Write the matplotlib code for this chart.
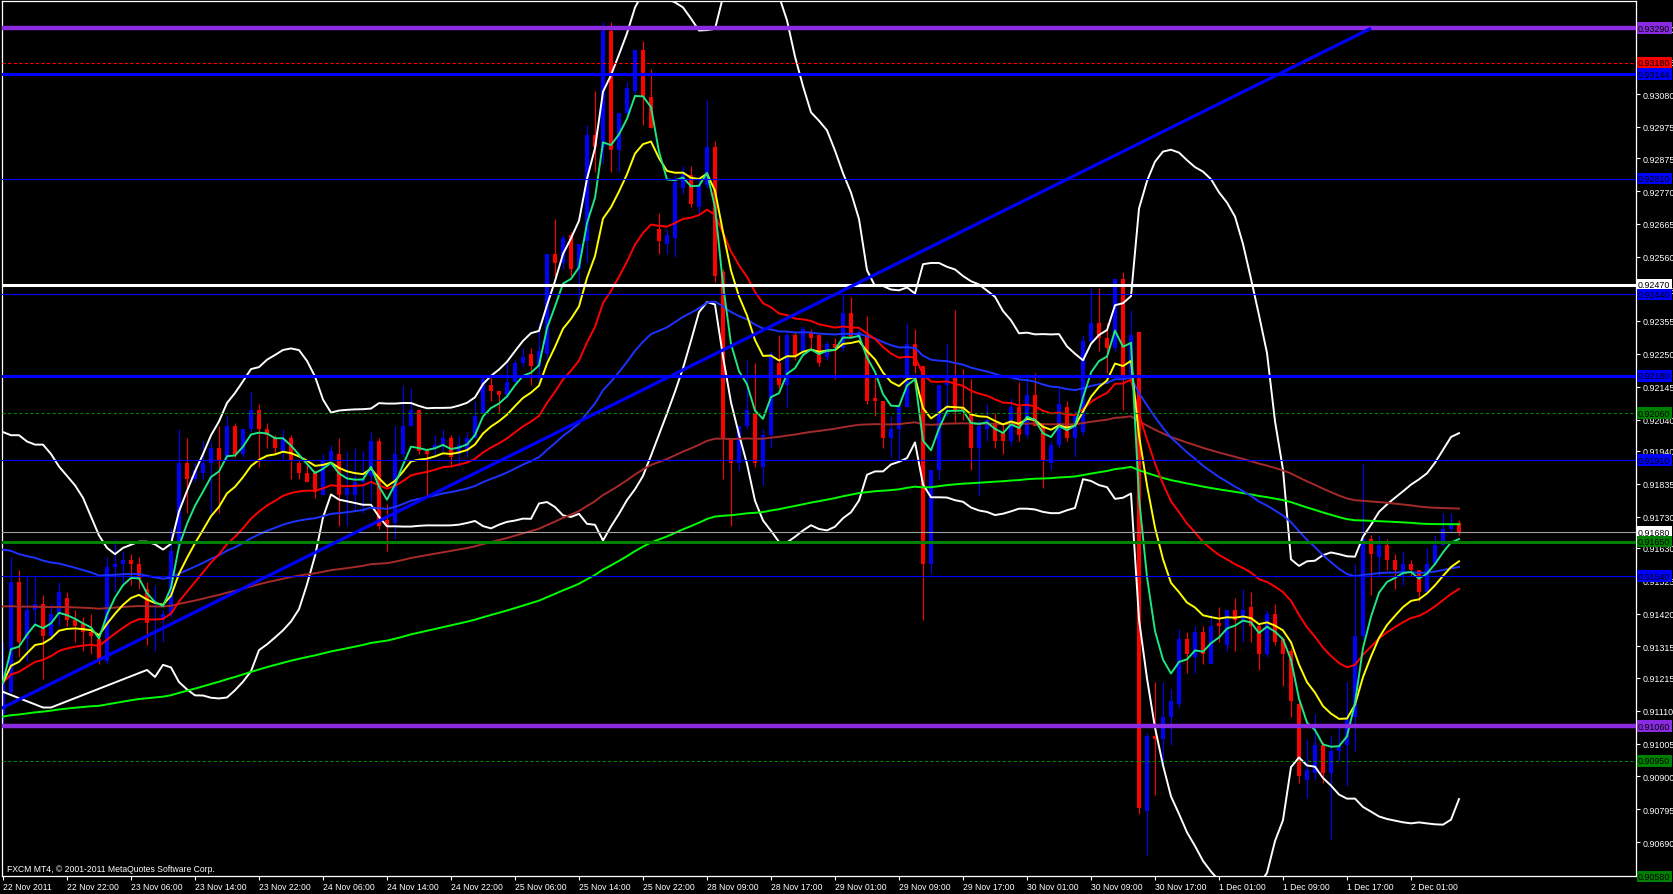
import numpy as np
import pandas as pd
import matplotlib
matplotlib.use('Agg')
import matplotlib.pyplot as plt
from matplotlib import font_manager

# pick a narrow sans font like the MT4 terminal font
_names = {f.name for f in font_manager.fontManager.ttflist}
if 'Liberation Sans Narrow' in _names:
    FONT, FS = 'Liberation Sans Narrow', 7.2
else:
    FONT, FS = 'Liberation Sans', 6.2
FS_Y = FS * 1.03
plt.rcParams['font.family'] = [FONT, 'DejaVu Sans']

# ---- hourly candles (22 Nov - 2 Dec 2011) ----
opens = [0.9110, 0.9117, 0.9152, 0.9134, 0.9143, 0.9145, 0.9135, 0.9142, 0.9147, 0.9140,
         0.9139, 0.9136, 0.9134, 0.9127, 0.9157, 0.9158, 0.9159, 0.9158, 0.9150, 0.9140,
         0.9140, 0.9142, 0.9164, 0.9190, 0.9185, 0.9187, 0.9190, 0.9195, 0.9192, 0.9202,
         0.9193, 0.9201, 0.9207, 0.9201, 0.9198, 0.9194, 0.9198, 0.9190, 0.9187, 0.9187,
         0.9180, 0.9191, 0.9193, 0.9180, 0.9180, 0.9184, 0.9186, 0.9197, 0.9172, 0.9171,
         0.9193, 0.9202, 0.9207, 0.9194, 0.9195, 0.9196, 0.9198, 0.9193, 0.9194, 0.9198,
         0.9206, 0.9215, 0.9213, 0.9212, 0.9216, 0.9222, 0.9225, 0.9221, 0.9225, 0.9257,
         0.9254, 0.9263, 0.9252, 0.9261, 0.9295, 0.9291, 0.9328, 0.9290, 0.9302, 0.9309,
         0.9322, 0.9307, 0.9265, 0.9260, 0.9262, 0.9278, 0.9282, 0.9272, 0.9279, 0.9291,
         0.9251, 0.9198, 0.9190, 0.9202, 0.9206, 0.9189, 0.9199, 0.9222, 0.9215, 0.9231,
         0.9226, 0.9232, 0.9231, 0.9224, 0.9228, 0.9227, 0.9238, 0.9230, 0.9231, 0.9211,
         0.9210, 0.9198, 0.9201, 0.9208, 0.9228, 0.9221, 0.9158, 0.9188, 0.9215, 0.9218,
         0.9208, 0.9206, 0.9195, 0.9201, 0.9203, 0.9200, 0.9197, 0.9208, 0.9199, 0.9212,
         0.9202, 0.9190, 0.9196, 0.9208, 0.9198, 0.9200, 0.9229, 0.9235, 0.9230, 0.9227,
         0.9249, 0.9217, 0.9232, 0.9079, 0.9103, 0.9102, 0.9109, 0.9113, 0.9134, 0.9128,
         0.9136, 0.9126, 0.9139, 0.9132, 0.9143, 0.9140, 0.9144, 0.9138, 0.9129, 0.9142,
         0.9134, 0.9130, 0.9113, 0.9089, 0.9091, 0.9100, 0.9091, 0.9098, 0.9100, 0.9109,
         0.9135, 0.9166, 0.9160, 0.9164, 0.9159, 0.9155, 0.9158, 0.9156, 0.9149, 0.9158,
         0.9164, 0.9169, 0.9171]
highs = [0.9133, 0.9160, 0.9156, 0.9154, 0.9154, 0.9148, 0.9145, 0.9152, 0.9149, 0.9143,
         0.9141, 0.9142, 0.9135, 0.9160, 0.9166, 0.9162, 0.9161, 0.9160, 0.9152, 0.9151,
         0.9143, 0.9169, 0.9201, 0.9198, 0.9190, 0.9197, 0.9197, 0.9202, 0.9205, 0.9203,
         0.9201, 0.9213, 0.9209, 0.9203, 0.9199, 0.9201, 0.9199, 0.9191, 0.9190, 0.9188,
         0.9193, 0.9196, 0.9198, 0.9194, 0.9195, 0.9194, 0.9200, 0.9198, 0.9177, 0.9202,
         0.9215, 0.9214, 0.9207, 0.9195, 0.9199, 0.9201, 0.9199, 0.9199, 0.9200, 0.9210,
         0.9218, 0.9218, 0.9213, 0.9222, 0.9223, 0.9227, 0.9227, 0.9235, 0.9257, 0.9268,
         0.9263, 0.9264, 0.9260, 0.9298, 0.9309, 0.9331, 0.9331, 0.9302, 0.9312, 0.9322,
         0.9325, 0.9316, 0.9270, 0.9265, 0.9282, 0.9285, 0.9285, 0.9281, 0.9306, 0.9293,
         0.9252, 0.9198, 0.9202, 0.9223, 0.9222, 0.9201, 0.9226, 0.9231, 0.9232, 0.9232,
         0.9234, 0.9233, 0.9231, 0.9229, 0.9230, 0.9244, 0.9243, 0.9234, 0.9237, 0.9219,
         0.9210, 0.9205, 0.9208, 0.9235, 0.9233, 0.9221, 0.9188, 0.9215, 0.9228, 0.9239,
         0.9220, 0.9217, 0.9204, 0.9209, 0.9206, 0.9203, 0.9211, 0.9216, 0.9219, 0.9219,
         0.9203, 0.9197, 0.9214, 0.9210, 0.9207, 0.9231, 0.9246, 0.9246, 0.9235, 0.9249,
         0.9251, 0.9239, 0.9232, 0.9104, 0.9120, 0.9120, 0.9118, 0.9137, 0.9136, 0.9138,
         0.9138, 0.9142, 0.9144, 0.9143, 0.9147, 0.9150, 0.9149, 0.9139, 0.9143, 0.9145,
         0.9134, 0.9131, 0.9114, 0.9102, 0.9110, 0.9101, 0.9103, 0.9107, 0.9120, 0.9158,
         0.9190, 0.9167, 0.9167, 0.9166, 0.9161, 0.9162, 0.9159, 0.9156, 0.9163, 0.9167,
         0.9174, 0.9174, 0.9172]
lows = [0.9106, 0.9116, 0.9128, 0.9127, 0.9138, 0.9121, 0.9134, 0.9138, 0.9138, 0.9133,
        0.9130, 0.9129, 0.9126, 0.9126, 0.9149, 0.9151, 0.9151, 0.9150, 0.9132, 0.9130,
        0.9133, 0.9141, 0.9163, 0.9174, 0.9184, 0.9185, 0.9173, 0.9174, 0.9191, 0.9192,
        0.9192, 0.9200, 0.9189, 0.9195, 0.9193, 0.9191, 0.9185, 0.9185, 0.9184, 0.9179,
        0.9180, 0.9189, 0.9170, 0.9170, 0.9175, 0.9174, 0.9178, 0.9169, 0.9162, 0.9166,
        0.9192, 0.9202, 0.9193, 0.9180, 0.9192, 0.9194, 0.9189, 0.9189, 0.9192, 0.9198,
        0.9206, 0.9210, 0.9206, 0.9211, 0.9216, 0.9221, 0.9215, 0.9216, 0.9222, 0.9250,
        0.9252, 0.9250, 0.9241, 0.9254, 0.9283, 0.9286, 0.9283, 0.9283, 0.9301, 0.9308,
        0.9298, 0.9297, 0.9257, 0.9257, 0.9256, 0.9276, 0.9272, 0.9270, 0.9278, 0.9248,
        0.9185, 0.9170, 0.9188, 0.9201, 0.9189, 0.9183, 0.9195, 0.9214, 0.9208, 0.9223,
        0.9225, 0.9226, 0.9221, 0.9223, 0.9217, 0.9226, 0.9230, 0.9230, 0.9209, 0.9205,
        0.9195, 0.9192, 0.9191, 0.9208, 0.9219, 0.9140, 0.9155, 0.9185, 0.9205, 0.9203,
        0.9204, 0.9188, 0.9180, 0.9197, 0.9195, 0.9193, 0.9196, 0.9197, 0.9198, 0.9202,
        0.9182, 0.9188, 0.9195, 0.9197, 0.9192, 0.9199, 0.9228, 0.9226, 0.9219, 0.9226,
        0.9207, 0.9216, 0.9078, 0.9065, 0.9084, 0.9094, 0.9100, 0.9112, 0.9123, 0.9123,
        0.9126, 0.9126, 0.9133, 0.9130, 0.9130, 0.9133, 0.9133, 0.9124, 0.9128, 0.9132,
        0.9119, 0.9109, 0.9088, 0.9083, 0.9089, 0.9088, 0.9070, 0.9095, 0.9087, 0.9098,
        0.9134, 0.9148, 0.9154, 0.9156, 0.9150, 0.9151, 0.9154, 0.9146, 0.9149, 0.9158,
        0.9164, 0.9168, 0.9167]
closes = [0.9120, 0.9152, 0.9133, 0.9143, 0.9145, 0.9135, 0.9142, 0.9149, 0.9140, 0.9138,
          0.9136, 0.9135, 0.9127, 0.9157, 0.9158, 0.9159, 0.9158, 0.9153, 0.9139, 0.9140,
          0.9142, 0.9162, 0.9190, 0.9185, 0.9188, 0.9190, 0.9195, 0.9191, 0.9202, 0.9193,
          0.9201, 0.9207, 0.9201, 0.9199, 0.9195, 0.9198, 0.9191, 0.9187, 0.9184, 0.9181,
          0.9191, 0.9194, 0.9180, 0.9182, 0.9184, 0.9185, 0.9197, 0.9170, 0.9170, 0.9193,
          0.9202, 0.9207, 0.9194, 0.9193, 0.9196, 0.9198, 0.9192, 0.9196, 0.9198, 0.9205,
          0.9217, 0.9213, 0.9212, 0.9216, 0.9222, 0.9224, 0.9221, 0.9226, 0.9257, 0.9254,
          0.9262, 0.9252, 0.9260, 0.9295, 0.9291, 0.9328, 0.9290, 0.9302, 0.9310, 0.9322,
          0.9307, 0.9297, 0.9261, 0.9263, 0.9280, 0.9283, 0.9273, 0.9279, 0.9291, 0.9250,
          0.9198, 0.9190, 0.9202, 0.9207, 0.9190, 0.9199, 0.9225, 0.9215, 0.9231, 0.9224,
          0.9233, 0.9230, 0.9222, 0.9228, 0.9227, 0.9238, 0.9230, 0.9232, 0.9210, 0.9210,
          0.9198, 0.9201, 0.9208, 0.9228, 0.9221, 0.9158, 0.9188, 0.9215, 0.9218, 0.9207,
          0.9207, 0.9195, 0.9202, 0.9204, 0.9197, 0.9197, 0.9208, 0.9199, 0.9212, 0.9202,
          0.9191, 0.9196, 0.9209, 0.9198, 0.9205, 0.9229, 0.9235, 0.9230, 0.9227, 0.9249,
          0.9217, 0.9231, 0.9080, 0.9103, 0.9102, 0.9109, 0.9114, 0.9134, 0.9129, 0.9136,
          0.9129, 0.9138, 0.9138, 0.9143, 0.9140, 0.9143, 0.9138, 0.9129, 0.9142, 0.9133,
          0.9129, 0.9114, 0.9090, 0.9092, 0.9100, 0.9091, 0.9098, 0.9100, 0.9109, 0.9135,
          0.9166, 0.9161, 0.9164, 0.9159, 0.9156, 0.9158, 0.9156, 0.9149, 0.9158, 0.9164,
          0.9169, 0.9171, 0.9168]

# indicator settings and values read where the window starts
ema_fast_spans = [5, 11, 24]
ema_slow_spans = [55, 150, 200]
ema_slow_start = [0.9164, 0.91446, 0.9109]
bb_period, bb_dev = 20, 2
bb_upper_start = [0.9200, 0.9199, 0.9199, 0.9197, 0.9196, 0.9196, 0.9193, 0.9189, 0.9186, 0.9183,
                  0.9179, 0.9173, 0.9167, 0.9163, 0.9161, 0.9163, 0.9164, 0.9165, 0.9165]
bb_lower_start = [0.9117, 0.9116, 0.9115, 0.9114, 0.9113, 0.9112, 0.9112, 0.9113, 0.9114, 0.9115,
                  0.9116, 0.9117, 0.9118, 0.9119, 0.9120, 0.9121, 0.9122, 0.9123, 0.9124]

# horizontal levels drawn on the chart
level_prices = [0.93290, 0.93180, 0.93144, 0.92810, 0.92470, 0.92440, 0.92180, 0.92060,
                0.91910, 0.91680, 0.91650, 0.91540, 0.91060, 0.90950, 0.90580]
level_kinds = ['purple', 'reddash', 'bluethick', 'blue', 'white', 'blue', 'bluethick', 'greendash',
               'blue', 'bid', 'greenthick', 'blue', 'purple', 'greendash', 'greenbottom']
trend_bars = [-0.4, 171.0]
trend_prices = [0.91115, 0.93290]

price_ticks = [0.93290, 0.93185, 0.93080, 0.92975, 0.92875, 0.92770, 0.92665, 0.92560, 0.92455,
               0.92355, 0.92250, 0.92145, 0.92040, 0.91940, 0.91835, 0.91730, 0.91630, 0.91525,
               0.91420, 0.91315, 0.91215, 0.91110, 0.91005, 0.90900, 0.90795, 0.90690]
time_tick_bars = list(range(0, 177, 8))
time_labels = ['22 Nov 2011', '22 Nov 22:00', '23 Nov 06:00', '23 Nov 14:00', '23 Nov 22:00',
               '24 Nov 06:00', '24 Nov 14:00', '24 Nov 22:00', '25 Nov 06:00', '25 Nov 14:00',
               '25 Nov 22:00', '28 Nov 09:00', '28 Nov 17:00', '29 Nov 01:00', '29 Nov 09:00',
               '29 Nov 17:00', '30 Nov 01:00', '30 Nov 09:00', '30 Nov 17:00', '1 Dec 01:00',
               '1 Dec 09:00', '1 Dec 17:00', '2 Dec 01:00']

styles = {
    'purple':      dict(color='#8A2BE2', lw=3.2, ls='-',  box='#8A2BE2'),
    'reddash':     dict(color='#FF0000', lw=0.8, ls=(0, (3, 2)), box='#FF0000'),
    'bluethick':   dict(color='#0000FF', lw=2.2, ls='-',  box='#0000FF'),
    'blue':        dict(color='#0000FF', lw=0.8, ls='-',  box='#0000FF'),
    'white':       dict(color='#FFFFFF', lw=2.2, ls='-',  box='#FFFFFF'),
    'greendash':   dict(color='#008000', lw=0.8, ls=(0, (3, 2)), box='#008000'),
    'bid':         dict(color='#A0A0A0', lw=0.8, ls='-',  box='#FFFFFF'),
    'greenthick':  dict(color='#008000', lw=2.2, ls='-',  box='#008000'),
    'greenbottom': dict(color='#1FA01F', lw=1.2, ls='-',  box='#008000'),
}

o = np.array(opens); h = np.array(highs); l = np.array(lows); c = np.array(closes)
idx = np.arange(len(c))
up = c >= o
cols = np.where(up, '#0000FF', '#FF0000')

s = pd.Series(c)
fast = [s.ewm(span=n, adjust=False).mean().values for n in ema_fast_spans]
slow = []
for n, st in zip(ema_slow_spans, ema_slow_start):
    e = pd.concat([pd.Series([st]), s], ignore_index=True).ewm(span=n, adjust=False).mean()
    slow.append(e.values[1:])
mid = s.rolling(bb_period).mean()
sd = s.rolling(bb_period).std(ddof=0)
bb_up = (mid + bb_dev * sd).values
bb_lo = (mid - bb_dev * sd).values
k = len(bb_upper_start)
bb_up[:k] = bb_upper_start
bb_lo[:k] = bb_lower_start

W, H = 1674, 895
fig = plt.figure(figsize=(W / 100, H / 100), dpi=100, facecolor='black')
ax = fig.add_axes([2 / W, 18 / H, 1634 / W, 875 / H])
ax.set_facecolor('black')

# candles
ax.vlines(idx, l, h, colors=cols, lw=0.8, zorder=2)
ax.bar(idx, np.maximum(np.abs(c - o), 0.00003), bottom=np.minimum(o, c), width=0.6,
       color=cols, linewidth=0, zorder=2)

# indicators
ax.plot(idx, bb_up, color='white', lw=1.4, zorder=3)
ax.plot(idx, bb_lo, color='white', lw=1.4, zorder=3)
ax.plot(idx, slow[2], color='#00FF00', lw=1.4, zorder=3)
ax.plot(idx, slow[1], color='#A52A2A', lw=1.4, zorder=3)
ax.plot(idx, slow[0], color='#1E32FF', lw=1.4, zorder=3)
ax.plot(idx, fast[2], color='#FF0000', lw=1.4, zorder=3)
ax.plot(idx, fast[1], color='#FFFF00', lw=1.4, zorder=3)
ax.plot(idx, fast[0], color='#1EE682', lw=1.4, zorder=3)

# objects
for p, kind in zip(level_prices, level_kinds):
    st = styles[kind]
    ax.axhline(p, color=st['color'], lw=st['lw'], ls=st['ls'], zorder=4)
ax.plot(trend_bars, trend_prices, color='#0000FF', lw=2.3, zorder=4, solid_capstyle='butt')

ax.set_xlim(-0.125, 204.125)
ax.set_ylim(0.905817, 0.933773)

for sp in ax.spines.values():
    sp.set_color('white')
    sp.set_linewidth(0.9)

ax.yaxis.tick_right()
ax.set_yticks(price_ticks)
ax.set_yticklabels(['%.5f' % v for v in price_ticks])
ax.tick_params(axis='y', colors='white', length=3, width=0.8, pad=1.5, labelsize=FS_Y)
ax.set_xticks(time_tick_bars)
ax.set_xticklabels(time_labels, ha='left')
ax.tick_params(axis='x', colors='white', length=3, width=0.8, pad=1, labelsize=FS)

# price boxes on the right scale
ytr = ax.get_yaxis_transform()
for p, kind in zip(level_prices, level_kinds):
    ax.text(1.0 + 2 / 1634, p, '%.5f' % p, transform=ytr, ha='left', va='center',
            fontsize=FS_Y, color='black', zorder=10, clip_on=False,
            bbox=dict(boxstyle='square,pad=0.15', fc=styles[kind]['box'], ec='none'))

ax.text(0.003, 0.009, 'FXCM MT4, \u00a9 2001-2011 MetaQuotes Software Corp.', transform=ax.transAxes,
        color='white', fontsize=FS, ha='left', va='center', zorder=6)

fig.savefig('out.png', dpi=100, facecolor='black')
